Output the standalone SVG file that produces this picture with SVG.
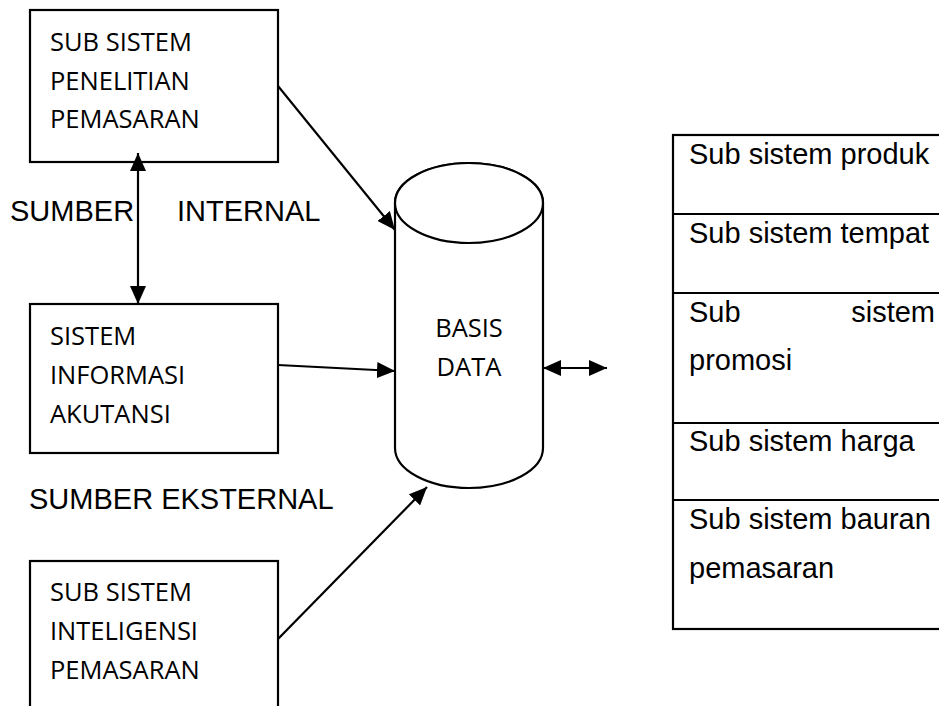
<svg xmlns="http://www.w3.org/2000/svg" width="939" height="706" viewBox="0 0 939 706">
  <style>
    .box { fill: #ffffff; stroke: #000000; stroke-width: 2.2; }
    .lbl { font-family: "Open Sans", "Noto Sans", sans-serif; font-size: 25.5px; fill: #000000; }
    .cap { font-family: "Liberation Sans", Arial, sans-serif; font-size: 29px; fill: #000000; }
    .row { font-family: "Liberation Sans", Arial, sans-serif; font-size: 29px; fill: #000000; }
    .link { fill: none; stroke: #000000; stroke-width: 2.2; }
  </style>
  <defs>
    <marker id="arrow" viewBox="0 0 18 16" refX="18" refY="8" markerWidth="18" markerHeight="16" markerUnits="userSpaceOnUse" orient="auto-start-reverse">
      <path d="M0,0 L18,8 L0,16 Z" fill="#000000"/>
    </marker>
  </defs>
  <rect width="939" height="706" fill="#ffffff"/>

  <!-- left-hand source systems -->
  <g id="node-penelitian">
    <rect class="box" x="30" y="10" width="248" height="152"/>
    <text class="lbl" x="50" y="51">SUB SISTEM</text>
    <text class="lbl" x="50" y="89.5">PENELITIAN</text>
    <text class="lbl" x="50" y="128">PEMASARAN</text>
  </g>
  <g id="node-akuntansi">
    <rect class="box" x="30" y="304" width="248" height="149"/>
    <text class="lbl" x="50" y="345">SISTEM</text>
    <text class="lbl" x="50" y="384">INFORMASI</text>
    <text class="lbl" x="50" y="423">AKUTANSI</text>
  </g>
  <g id="node-inteligensi">
    <rect class="box" x="30" y="561" width="248" height="160"/>
    <text class="lbl" x="50" y="601">SUB SISTEM</text>
    <text class="lbl" x="50" y="640">INTELIGENSI</text>
    <text class="lbl" x="50" y="679">PEMASARAN</text>
  </g>

  <!-- source labels -->
  <g id="label-internal">
    <text class="cap" x="10" y="221">SUMBER</text>
    <text class="cap" x="177" y="221">INTERNAL</text>
  </g>
  <g id="label-eksternal">
    <text class="cap" x="29" y="509">SUMBER EKSTERNAL</text>
  </g>

  <!-- database cylinder -->
  <g id="node-basis-data">
    <path class="box" d="M395,203 L395,448 A74,40 0 0 0 543,448 L543,203 A74,40 0 0 0 395,203 Z"/>
    <ellipse class="box" cx="469" cy="203" rx="74" ry="40"/>
    <text class="lbl" x="469" y="337" text-anchor="middle">BASIS</text>
    <text class="lbl" x="469" y="376" text-anchor="middle">DATA</text>
  </g>

  <!-- marketing mix subsystems -->
  <g id="node-subsistem">
    <rect class="box" x="673" y="135" width="280" height="494"/>
    <line class="link" x1="673" y1="214" x2="945" y2="214"/>
    <line class="link" x1="673" y1="293" x2="945" y2="293"/>
    <line class="link" x1="673" y1="423" x2="945" y2="423"/>
    <line class="link" x1="673" y1="500" x2="945" y2="500"/>
    <text class="row" x="689" y="164">Sub sistem produk</text>
    <text class="row" x="689" y="243">Sub sistem tempat</text>
    <text class="row" x="689" y="322">Sub</text>
    <text class="row" x="935" y="322" text-anchor="end">sistem</text>
    <text class="row" x="689" y="370">promosi</text>
    <text class="row" x="689" y="451">Sub sistem harga</text>
    <text class="row" x="689" y="529">Sub sistem bauran</text>
    <text class="row" x="689" y="578">pemasaran</text>
  </g>

  <!-- connectors -->
  <g id="connectors">
    <line class="link" x1="138" y1="153" x2="138" y2="304" marker-start="url(#arrow)" marker-end="url(#arrow)"/>
    <line class="link" x1="278" y1="86" x2="395" y2="230" marker-end="url(#arrow)"/>
    <line class="link" x1="278" y1="365" x2="395" y2="371" marker-end="url(#arrow)"/>
    <line class="link" x1="278" y1="639" x2="427" y2="487" marker-end="url(#arrow)"/>
    <line class="link" x1="543" y1="368" x2="607" y2="368" marker-start="url(#arrow)" marker-end="url(#arrow)"/>
  </g>
</svg>
